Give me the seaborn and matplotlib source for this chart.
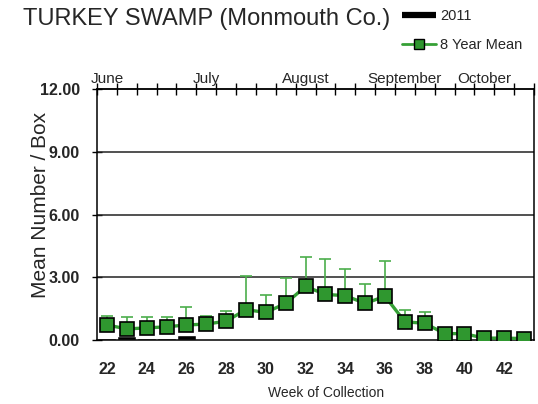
import numpy as np
import pandas as pd
import matplotlib
matplotlib.use("Agg")
import matplotlib.pyplot as plt
from matplotlib.lines import Line2D
import seaborn as sns

# Data
weeks = list(range(22, 44))
mean_8yr = [0.72, 0.53, 0.58, 0.63, 0.72, 0.76, 0.90, 1.45, 1.32, 1.75, 2.56,
            2.18, 2.12, 1.75, 2.09, 0.87, 0.80, 0.31, 0.30, 0.09, 0.09, 0.07]
err_upper = [1.16, 1.10, 1.10, 1.10, 1.59, 1.16, 1.40, 3.06, 2.14, 2.95, 3.95,
             3.89, 3.38, 2.66, 3.80, 1.42, 1.35, 0.31, 0.30, 0.09, 0.09, 0.07]
y2011 = [0.08, 0.2, 0.08, 0.08, 0.24, 0, 0, 0, 0, 0, 0,
         0, 0, 0, 0, 0, 0, 0, 0, 0, 0, 0]
month_names = ["June", "July", "August", "September", "October"]
month_pos = [22, 27, 32, 37, 41]

df = pd.DataFrame({"week": weeks, "mean": mean_8yr, "upper": err_upper, "y2011": y2011})

sns.set_style("white")
plt.rcParams["font.family"] = ["Liberation Sans", "DejaVu Sans"]

fig = plt.figure(figsize=(5.38, 4.04), dpi=100)
ax = fig.add_axes([0.1803, 0.1584, 0.8123, 0.6213])

green = "#35a035"
# 2011 bars
ax.bar(df["week"], df["y2011"], width=0.96, color="black", zorder=2)

# 8 year mean, upper error only
ax.errorbar(df["week"], df["mean"], yerr=[np.zeros(len(df)), df["upper"] - df["mean"]],
            fmt="none", ecolor="#4cae4c", elinewidth=1.2, capsize=4, capthick=1.2, zorder=3)
sns.lineplot(data=df, x="week", y="mean", color=green, lw=2.4, marker="s",
             markersize=9.5, markerfacecolor="#2f972f", markeredgecolor="black",
             markeredgewidth=1.2, ax=ax, zorder=4)

ax.set_xlim(21.5, 43.5)
ax.set_ylim(0, 12)
for g in [3, 6, 9]:
    ax.axhline(g, color="#222222", lw=1.1, zorder=1)

for s in ax.spines.values():
    s.set_color("black")
    s.set_linewidth(1.1)

bounds = np.arange(21.5, 44.0, 1.0)
ax.set_xticks(range(22, 43, 2))
ax.set_xticklabels([str(w) for w in range(22, 43, 2)], fontsize=11.5, fontweight="bold")
ax.set_xticks(bounds, minor=True)
ax.tick_params(axis="x", which="major", length=0, pad=16)
ax.tick_params(axis="x", which="minor", direction="out", length=4, width=1, color="black")

ax.set_yticks([0, 3, 6, 9, 12])
ax.set_yticklabels(["%.2f" % v for v in [0, 3, 6, 9, 12]], fontsize=11.5, fontweight="bold")
ax.tick_params(axis="y", which="major", direction="inout", length=7, width=1,
               color="black", left=True, pad=9)

ax.set_xlabel("Week of Collection", fontsize=10)
ax.xaxis.set_label_coords(0.525, -0.185)
ax.set_ylabel("Mean Number / Box", fontsize=15)
ax.yaxis.set_label_coords(-0.108, 0.54)

# month axis on top
top = ax.secondary_xaxis("top")
top.set_xticks(month_pos)
top.set_xticklabels(month_names, fontsize=11)
top.set_xticks(bounds, minor=True)
top.tick_params(axis="x", which="major", length=0, pad=2)
top.tick_params(axis="x", which="minor", direction="inout", length=8, width=1, color="black")
top.spines["top"].set_linewidth(1.1)

fig.text(0.043, 0.938, "TURKEY SWAMP (Monmouth Co.)", fontsize=17, va="baseline")

handles = [Line2D([], [], color="black", lw=4.5, solid_capstyle="butt"),
           Line2D([], [], color=green, lw=2, marker="s", markersize=7,
                  markerfacecolor="#2f972f", markeredgecolor="black")]
fig.legend(handles, ["2011", "8 Year Mean"], loc="upper left", bbox_to_anchor=(0.748, 0.978),
           frameon=False, fontsize=10.5, handlelength=2.3, handletextpad=0.3,
           labelspacing=1.05, borderpad=0, borderaxespad=0)

fig.savefig("out.png", dpi=100)
